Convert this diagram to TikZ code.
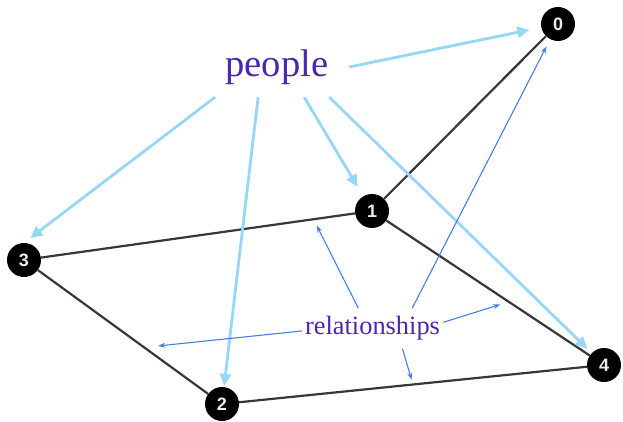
\documentclass[tikz,border=0pt]{standalone}
\usepackage{fontspec}
\setmainfont{Liberation Serif}
\newfontfamily\digitfont{Liberation Sans}
\usetikzlibrary{arrows.meta}
\definecolor{labelpurple}{RGB}{72,40,175}
\definecolor{peoplearrow}{RGB}{150,215,245}
\definecolor{relarrow}{RGB}{70,125,230}
\definecolor{edgegray}{RGB}{55,55,55}

\begin{document}
\begin{tikzpicture}[x=1pt, y=-1pt, >=Stealth,
  vertex/.style={circle,fill=black,minimum size=34pt,inner sep=0pt,text=gray!15,font=\digitfont\bfseries\fontsize{18}{18}\selectfont},
  link/.style={draw=edgegray,line width=2.2pt},
  toperson/.style={->,draw=peoplearrow,line width=2.8pt,>={Triangle[length=12pt,width=11pt]}},
  torel/.style={->,draw=relarrow,line width=1.1pt,>={Stealth[length=7pt,width=5pt]}}]
\useasboundingbox (0,0) rectangle (623,422);
% the graph
\node[vertex] (n0) at (558,24) {0};
\node[vertex] (n1) at (372,211) {1};
\node[vertex] (n2) at (222,404) {2};
\node[vertex] (n3) at (24,260) {3};
\node[vertex] (n4) at (604,365) {4};
\draw[link] (n0) -- (n1);
\draw[link] (n1) -- (n3);
\draw[link] (n3) -- (n2);
\draw[link] (n2) -- (n4);
\draw[link] (n1) -- (n4);
% points on the edges
\path (n3.center) -- (n1.center) coordinate[pos=0.832] (e31);
\path (n3.center) -- (n2.center) coordinate[pos=0.607] (e32);
\path (n1.center) -- (n4.center) coordinate[pos=0.59] (e14);
\path (n2.center) -- (n4.center) coordinate[pos=0.5] (e24);
% labels
\node[text=labelpurple,font=\fontsize{38.6}{40}\selectfont,minimum width=144pt,minimum height=60pt,inner sep=0pt] (people) at (277,67) {people};
\node[text=labelpurple,font=\fontsize{26.4}{28}\selectfont,minimum width=141pt,minimum height=40pt,inner sep=0pt] (rel) at (372.5,328.5) {relationships};
% people -> vertices
\draw[toperson,shorten >=12pt] (people.east) -- (n0);
\draw[toperson,shorten >=8pt] (people.206) -- (n3.north);
\draw[toperson,shorten >=1pt] (people.238) -- (n2);
\draw[toperson,shorten >=11pt] (people.-48) -- (n1);
\draw[toperson,shorten >=6pt] (people.-30) -- (n4);
% relationships -> edges
\draw[torel,shorten >=7pt] (rel.125) -- (e31);
\draw[torel,shorten >=8pt] (rel.27) -- (n0);
\draw[torel,shorten >=14pt] (rel.182) -- (e32);
\draw[torel,shorten >=9pt] (rel.5) -- (e14);
\draw[torel,shorten >=5pt] (rel.-34) -- (e24);
\end{tikzpicture}
\end{document}
